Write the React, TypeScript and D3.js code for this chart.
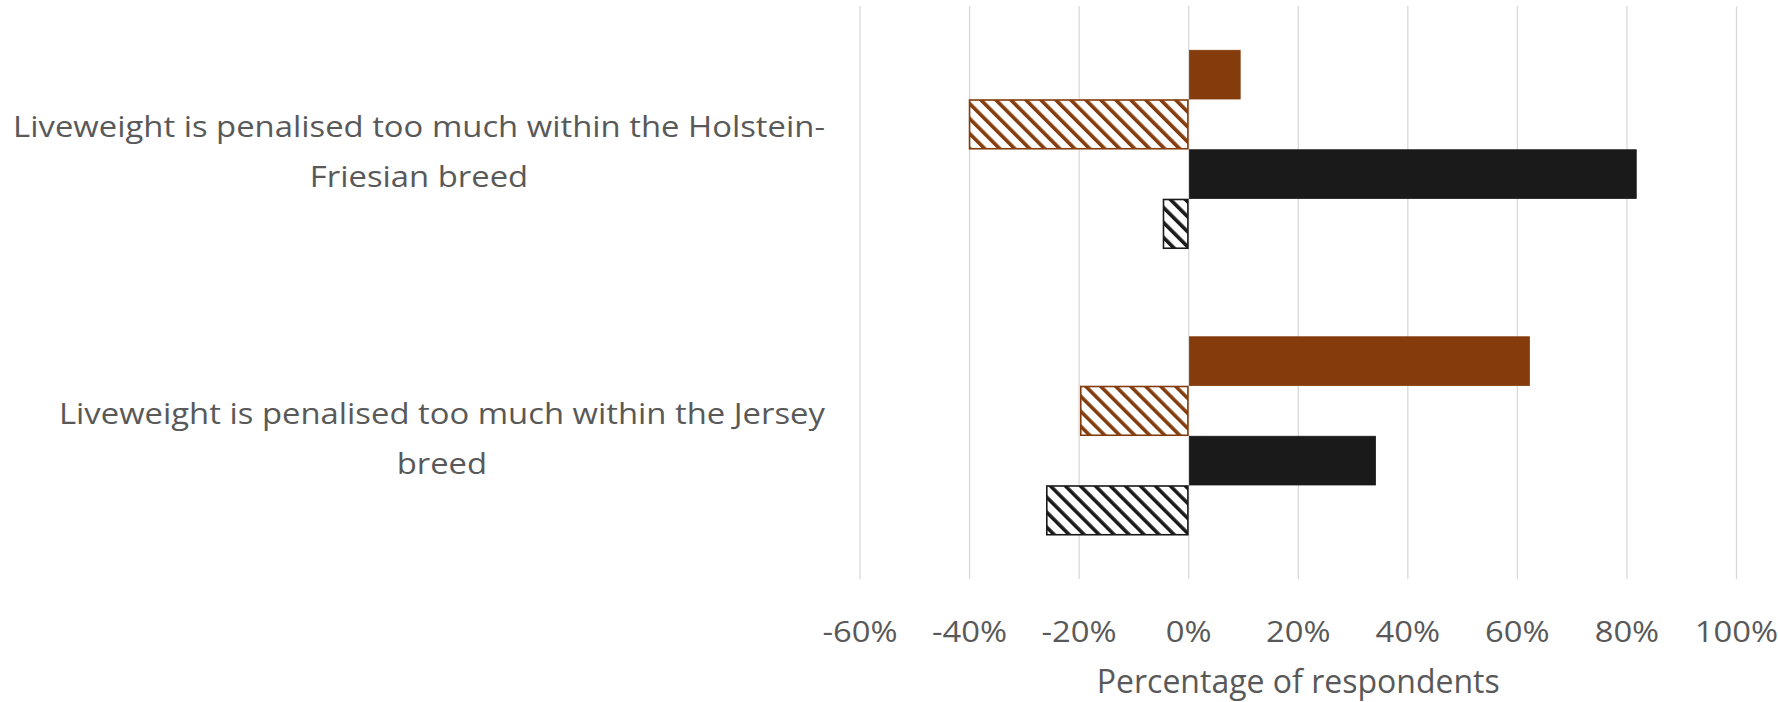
import React, { useEffect, useRef } from 'react';
import * as d3 from 'd3';

// Survey statements (one horizontal group each), pre-wrapped the way they are shown
const categories = ['Holstein-Friesian', 'Jersey'];
const categoryLines = [
  ['Liveweight is penalised too much within the Holstein-', 'Friesian breed'],
  ['Liveweight is penalised too much within the Jersey', 'breed'],
];

// Series, listed top to bottom within each group
const seriesKeys = ['brownAgree', 'brownDisagree', 'blackAgree', 'blackDisagree'];
const brownAgree = [0.094, 0.622];
const brownDisagree = [-0.4, -0.197];
const blackAgree = [0.817, 0.341];
const blackDisagree = [-0.046, -0.259];

const tickValues = [-0.6, -0.4, -0.2, 0, 0.2, 0.4, 0.6, 0.8, 1.0];
const axisTitle = 'Percentage of respondents';

const BROWN = '#843c0c';
const BLACK = '#1a1a1a';
const TEXT = '#595959';
const GRID = '#d9d9d9';
const FONT = "'Open Sans', 'Liberation Sans', sans-serif";

const W = 1778;
const H = 702;
const M = { left: 860, right: 1736.5, top: 6, bottom: 579 };

export default function App() {
  const ref = useRef<SVGSVGElement | null>(null);

  useEffect(() => {
    const svg = d3.select(ref.current);
    svg.selectAll('*').remove();

    const seriesValues: Record<string, number[]> = {
      brownAgree,
      brownDisagree,
      blackAgree,
      blackDisagree,
    };
    const seriesStyle: Record<string, { color: string; hatch: string | null }> = {
      brownAgree: { color: BROWN, hatch: null },
      brownDisagree: { color: BROWN, hatch: 'hatch-brown' },
      blackAgree: { color: BLACK, hatch: null },
      blackDisagree: { color: BLACK, hatch: 'hatch-black' },
    };

    const x = d3.scaleLinear().domain([-0.6, 1.0]).range([M.left, M.right]);
    const y0 = d3.scaleBand<string>().domain(categories).range([M.top, M.bottom]).padding(0);
    const y1 = d3
      .scaleBand<string>()
      .domain(seriesKeys)
      .range([0, y0.bandwidth()])
      .paddingInner(0)
      .paddingOuter(0.88);

    // diagonal hatch patterns
    const defs = svg.append('defs');
    [
      ['hatch-brown', BROWN],
      ['hatch-black', BLACK],
    ].forEach(([id, c]) => {
      const p = defs
        .append('pattern')
        .attr('id', id)
        .attr('patternUnits', 'userSpaceOnUse')
        .attr('width', 10.6)
        .attr('height', 10.6)
        .attr('patternTransform', 'rotate(-45)');
      p.append('rect').attr('width', 10.6).attr('height', 10.6).attr('fill', '#fff');
      p.append('rect').attr('x', 0).attr('width', 3.6).attr('height', 10.6).attr('fill', c);
    });

    // vertical gridlines
    svg
      .append('g')
      .selectAll('line')
      .data(tickValues)
      .join('line')
      .attr('x1', (d) => x(d))
      .attr('x2', (d) => x(d))
      .attr('y1', M.top)
      .attr('y2', M.bottom)
      .attr('stroke', GRID)
      .attr('stroke-width', 1.3);

    // bars
    const groups = svg
      .append('g')
      .selectAll('g')
      .data(categories)
      .join('g')
      .attr('transform', (d) => `translate(0,${y0(d)})`);

    groups
      .selectAll('rect')
      .data((_, i) => seriesKeys.map((k) => ({ key: k, value: seriesValues[k][i] })))
      .join('rect')
      .attr('x', (d) => Math.min(x(0), x(d.value)) + (d.value >= 0 ? 0.8 : 0))
      .attr('width', (d) => Math.abs(x(d.value) - x(0)) - 0.8)
      .attr('y', (d) => (y1(d.key) as number) + 0.5)
      .attr('height', y1.bandwidth() - 1)
      .attr('fill', (d) => {
        const s = seriesStyle[d.key];
        return s.hatch ? `url(#${s.hatch})` : s.color;
      })
      .attr('stroke', (d) => seriesStyle[d.key].color)
      .attr('stroke-width', (d) => (seriesStyle[d.key].hatch ? 1.6 : 0.8));

    // x axis tick labels (slightly widened glyphs)
    const tickStretch = 1.13;
    svg
      .append('g')
      .selectAll('text')
      .data(tickValues)
      .join('text')
      .attr('transform', (d) => `translate(${x(d)},642) scale(${tickStretch},1)`)
      .attr('text-anchor', 'middle')
      .attr('font-family', FONT)
      .attr('font-size', 29)
      .attr('fill', TEXT)
      .text((d) => `${Math.round(d * 100)}%`);

    // axis title
    svg
      .append('text')
      .attr('x', (M.left + M.right) / 2)
      .attr('y', 693)
      .attr('text-anchor', 'middle')
      .attr('font-family', FONT)
      .attr('font-size', 32)
      .attr('fill', TEXT)
      .text(axisTitle);

    // category labels: lines centred within a right-aligned block
    const labelRight = 825;
    const labelStretch = 1.094;
    categories.forEach((c, i) => {
      const cy = (y0(c) as number) + y0.bandwidth() / 2;
      const g = svg.append('g');
      const texts = g
        .selectAll('text')
        .data(categoryLines[i])
        .join('text')
        .attr('text-anchor', 'middle')
        .attr('font-family', FONT)
        .attr('font-size', 30)
        .attr('fill', TEXT)
        .text((d) => d);
      let maxW = 0;
      texts.each(function () {
        maxW = Math.max(maxW, (this as SVGTextElement).getComputedTextLength());
      });
      const cx = labelRight - (maxW * labelStretch) / 2;
      texts.attr(
        'transform',
        (_, j) => `translate(${cx},${cy - 12 + j * 50}) scale(${labelStretch},1)`
      );
    });
  }, []);

  return (
    <svg
      ref={ref}
      width={W}
      height={H}
      style={{ position: 'absolute', left: 0, top: 0, background: '#fff' }}
    />
  );
}
